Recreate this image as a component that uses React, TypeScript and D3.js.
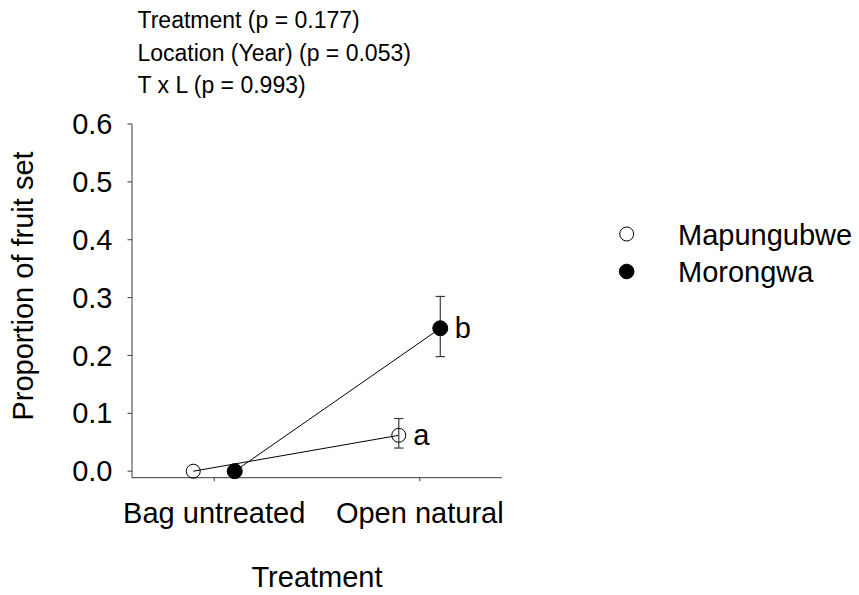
import React from "react";
import * as d3 from "d3";

// Treatment categories on the x axis
const treatments = ["Bag untreated", "Open natural"];

// Sites (series) and their mean proportion of fruit set per treatment
const sites = ["Mapungubwe", "Morongwa"];
const mapungubweMean = [0.0, 0.062];
const mapungubweLower = [0.0, 0.04];
const mapungubweUpper = [0.0, 0.091];
const morongwaMean = [0.0, 0.247];
const morongwaLower = [0.0, 0.198];
const morongwaUpper = [0.0, 0.302];

// Significance letters shown beside the open-natural points
const letters = ["a", "b"];

// Y-axis ticks
const yTicks = [0, 0.1, 0.2, 0.3, 0.4, 0.5, 0.6];

// Statistical summary printed above the plot
const statLines = [
  "Treatment (p = 0.177)",
  "Location (Year) (p = 0.053)",
  "T x L (p = 0.993)",
];

const W = 859;
const H = 595;
const FONT = "'Liberation Sans', Arial, Helvetica, sans-serif";

export default function App() {
  const plotLeft = 132;
  const plotRight = 502;
  const yZero = 471.2;
  const yTop = 124;
  const xAxisY = 477.7;

  const x = d3.scalePoint<string>().domain(treatments).range([plotLeft, plotRight]).padding(0.4);
  const y = d3.scaleLinear().domain([0, 0.6]).range([yZero, yTop]);
  const siteOffset = d3.scaleOrdinal<string, number>().domain(sites).range([-21, 20.5]);

  const series = [
    { name: sites[0], mean: mapungubweMean, lo: mapungubweLower, hi: mapungubweUpper, filled: false },
    { name: sites[1], mean: morongwaMean, lo: morongwaLower, hi: morongwaUpper, filled: true },
  ];

  const line = d3
    .line<[number, number]>()
    .x((d) => d[0])
    .y((d) => d[1]);

  const axisColor = "#3a3a3a";

  return (
    <svg
      width={W}
      height={H}
      style={{ position: "absolute", left: 0, top: 0, background: "#fff" }}
      fontFamily={FONT}
    >
      <rect x={0} y={0} width={W} height={H} fill="#fff" />

      {/* statistics summary */}
      {statLines.map((t, i) => (
        <text key={t} x={137.5} y={28.3 + i * 32.5} fontSize={23} fill="#000">
          {t}
        </text>
      ))}

      {/* y axis */}
      <line x1={plotLeft} x2={plotLeft} y1={yTop} y2={xAxisY} stroke={axisColor} strokeWidth={1} />
      {yTicks.map((t) => (
        <g key={t}>
          <line x1={plotLeft - 4.5} x2={plotLeft} y1={y(t)} y2={y(t)} stroke={axisColor} strokeWidth={1} />
          <text x={112.5} y={y(t)} dy="0.35em" textAnchor="end" fontSize={29} fill="#000">
            {d3.format(".1f")(t)}
          </text>
        </g>
      ))}
      <text
        transform={`translate(33.3, ${286}) rotate(-90)`}
        textAnchor="middle"
        fontSize={29}
        fill="#000"
      >
        Proportion of fruit set
      </text>

      {/* x axis */}
      <line x1={plotLeft} x2={plotRight} y1={xAxisY} y2={xAxisY} stroke={axisColor} strokeWidth={1} />
      {treatments.map((c) => (
        <g key={c}>
          <line x1={x(c)!} x2={x(c)!} y1={xAxisY} y2={xAxisY + 3.5} stroke={axisColor} strokeWidth={1} />
          <text x={x(c)!} y={523.3} textAnchor="middle" fontSize={29} fill="#000">
            {c}
          </text>
        </g>
      ))}
      <text x={317} y={586.7} textAnchor="middle" fontSize={29} fill="#000">
        Treatment
      </text>

      {/* connecting lines */}
      {series.map((s) => {
        const pts: [number, number][] = treatments.map((c, i) => [x(c)! + siteOffset(s.name), y(s.mean[i])]);
        return <path key={s.name + "-line"} d={line(pts)!} fill="none" stroke="#000" strokeWidth={1} />;
      })}

      {/* error bars */}
      {series.map((s) =>
        treatments.map((c, i) => {
          if (s.hi[i] === s.lo[i]) return null;
          const cx = x(c)! + siteOffset(s.name);
          const cap = 4.7;
          return (
            <g key={s.name + c + "-err"} stroke="#3c3c3c" strokeWidth={1.2}>
              <line x1={cx} x2={cx} y1={y(s.hi[i])} y2={y(s.lo[i])} />
              <line x1={cx - cap} x2={cx + cap} y1={y(s.hi[i])} y2={y(s.hi[i])} />
              <line x1={cx - cap} x2={cx + cap} y1={y(s.lo[i])} y2={y(s.lo[i])} />
            </g>
          );
        })
      )}

      {/* points */}
      {series.map((s) =>
        treatments.map((c, i) => (
          <circle
            key={s.name + c + "-pt"}
            cx={x(c)! + siteOffset(s.name)}
            cy={y(s.mean[i])}
            r={s.filled ? 7.5 : 7}
            fill={s.filled ? "#000" : "none"}
            stroke="#000"
            strokeWidth={1}
          />
        ))
      )}

      {/* significance letters */}
      {series.map((s, k) => (
        <text
          key={s.name + "-letter"}
          x={x(treatments[1])! + siteOffset(s.name) + 14.5}
          y={y(s.mean[1])}
          dy="0.35em"
          fontSize={29}
          fill="#000"
        >
          {letters[k]}
        </text>
      ))}

      {/* legend */}
      {series.map((s, k) => (
        <g key={s.name + "-legend"}>
          <circle
            cx={626.7}
            cy={234 + k * 37.5}
            r={s.filled ? 7.3 : 7}
            fill={s.filled ? "#000" : "#fff"}
            stroke="#000"
            strokeWidth={1}
          />
          <text x={678} y={245 + k * 37} fontSize={29} fill="#000">
            {s.name}
          </text>
        </g>
      ))}
    </svg>
  );
}
